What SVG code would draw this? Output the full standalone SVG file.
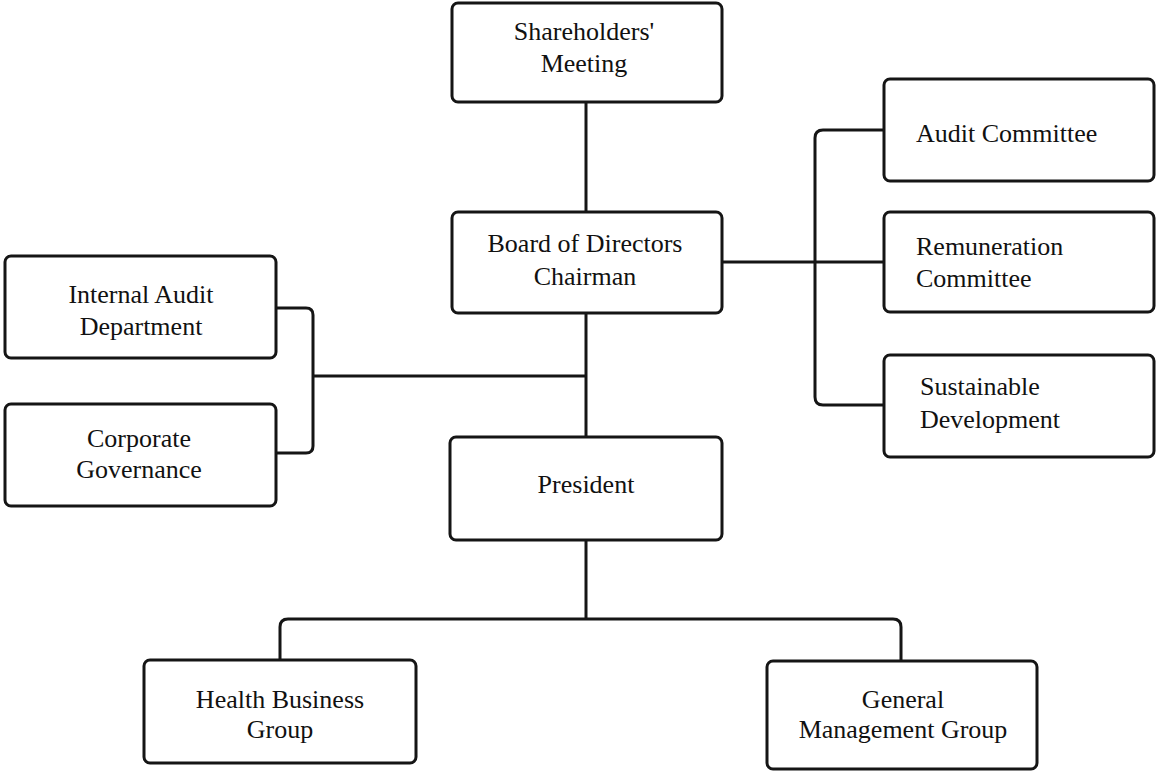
<svg xmlns="http://www.w3.org/2000/svg" width="1156" height="772" viewBox="0 0 1156 772">
<style>
.box{fill:#fff;stroke:#151515;stroke-width:3}
.ln{fill:none;stroke:#151515;stroke-width:3;stroke-linejoin:round}
text{font-family:"Liberation Serif","Times New Roman",serif;font-size:26px;fill:#111}
.c{text-anchor:middle}
</style>
<rect width="1156" height="772" fill="#fff"/>
<g id="connectors">
<path class="ln" d="M586,102 V212"/>
<path class="ln" d="M586,313 V437"/>
<path class="ln" d="M722,262 H884"/>
<path class="ln" d="M884,130 H823 Q815,130 815,138 V397 Q815,405 823,405 H884"/>
<path class="ln" d="M276,308 H306 Q313,308 313,315 V446 Q313,453 306,453 H276"/>
<path class="ln" d="M313,376 H586"/>
<path class="ln" d="M586,540 V619"/>
<path class="ln" d="M280,660 V627 Q280,619 288,619 H893 Q901,619 901,627 V661"/>
</g>
<g id="shareholders">
<rect class="box" x="452" y="3" width="270" height="99" rx="6"/>
<text class="c" x="584" y="40">Shareholders'</text>
<text class="c" x="584" y="72">Meeting</text>
</g>
<g id="board">
<rect class="box" x="452" y="212" width="270" height="101" rx="6"/>
<text class="c" x="585" y="252">Board of Directors</text>
<text class="c" x="585" y="285">Chairman</text>
</g>
<g id="internal-audit">
<rect class="box" x="5" y="256" width="271" height="102" rx="6"/>
<text class="c" x="141" y="303">Internal Audit</text>
<text class="c" x="141" y="335">Department</text>
</g>
<g id="corporate-governance">
<rect class="box" x="5" y="404" width="271" height="102" rx="6"/>
<text class="c" x="139" y="447">Corporate</text>
<text class="c" x="139" y="478">Governance</text>
</g>
<g id="audit-committee">
<rect class="box" x="884" y="79" width="270" height="102" rx="6"/>
<text x="916" y="142">Audit Committee</text>
</g>
<g id="remuneration-committee">
<rect class="box" x="884" y="212" width="270" height="100" rx="6"/>
<text x="916" y="255">Remuneration</text>
<text x="916" y="287">Committee</text>
</g>
<g id="sustainable-development">
<rect class="box" x="884" y="355" width="270" height="102" rx="6"/>
<text x="920" y="395">Sustainable</text>
<text x="920" y="428">Development</text>
</g>
<g id="president">
<rect class="box" x="450" y="437" width="272" height="103" rx="6"/>
<text class="c" x="586" y="493">President</text>
</g>
<g id="health-business-group">
<rect class="box" x="144" y="660" width="272" height="103" rx="6"/>
<text class="c" x="280" y="708">Health Business</text>
<text class="c" x="280" y="738">Group</text>
</g>
<g id="general-management-group">
<rect class="box" x="767" y="661" width="270" height="108" rx="6"/>
<text class="c" x="903" y="708">General</text>
<text class="c" x="903" y="738">Management Group</text>
</g>
</svg>
